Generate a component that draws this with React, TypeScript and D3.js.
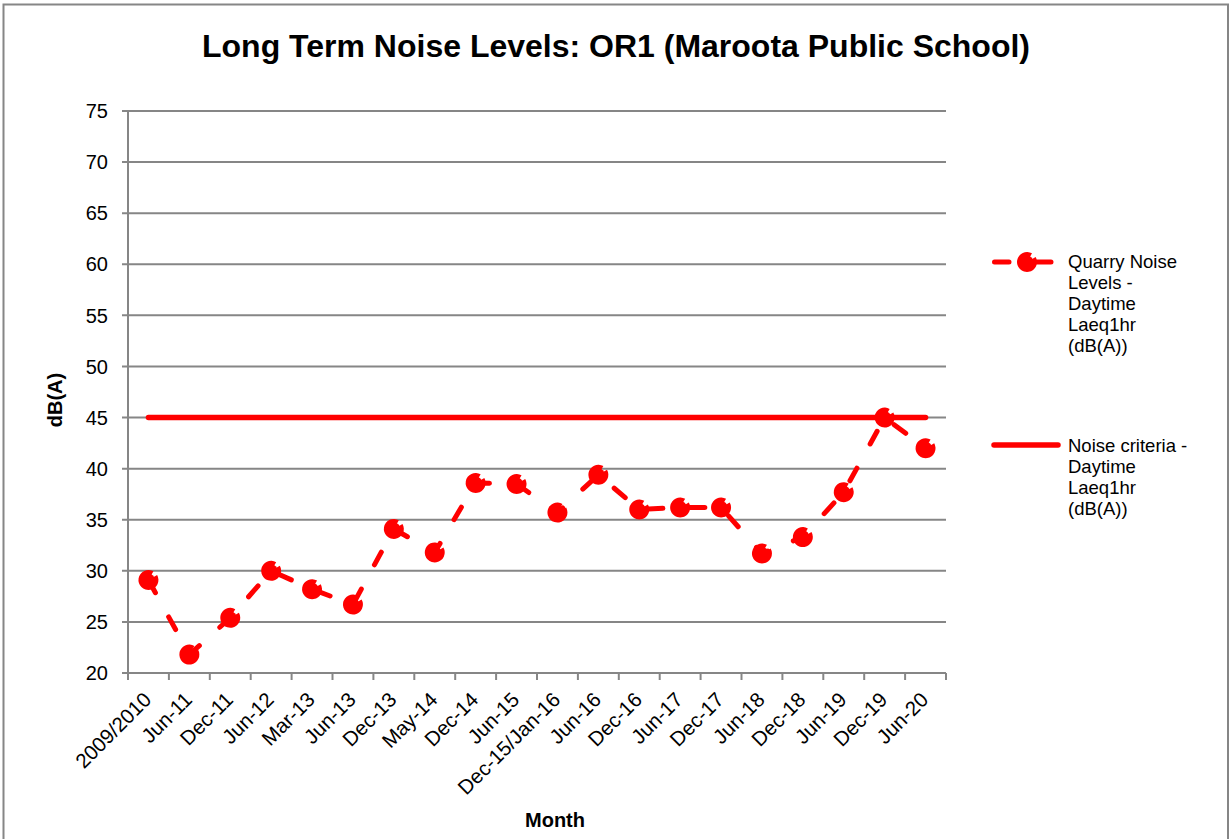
import React, { useRef, useEffect } from "react";
import { select, scaleBand, scaleLinear, line, arc } from "d3";

const months = [
  "2009/2010", "Jun-11", "Dec-11", "Jun-12", "Mar-13", "Jun-13", "Dec-13",
  "May-14", "Dec-14", "Jun-15", "Dec-15/Jan-16", "Jun-16", "Dec-16", "Jun-17",
  "Dec-17", "Jun-18", "Dec-18", "Jun-19", "Dec-19", "Jun-20",
];
const quarryNoise = [
  29.1, 21.8, 25.4, 30.0, 28.2, 26.7, 34.1, 31.8, 38.6, 38.5,
  35.7, 39.4, 36.0, 36.2, 36.2, 31.7, 33.3, 37.7, 45.0, 42.0,
];
const noiseCriteria = [
  45, 45, 45, 45, 45, 45, 45, 45, 45, 45,
  45, 45, 45, 45, 45, 45, 45, 45, 45, 45,
];
const yTicks = [20, 25, 30, 35, 40, 45, 50, 55, 60, 65, 70, 75];
const quarryLegend = ["Quarry Noise", "Levels -", "Daytime", "Laeq1hr", "(dB(A))"];
const criteriaLegend = ["Noise criteria -", "Daytime", "Laeq1hr", "(dB(A))"];

const RED = "#ff0000";
const GRID = "#868686";
const FONT = "'Liberation Sans', Arial, sans-serif";

function App() {
  const svgRef = useRef<SVGSVGElement>(null);

  useEffect(() => {
    const svg = select(svgRef.current);
    svg.selectAll("*").remove();

    // chart frame
    svg.append("path")
      .attr("d", "M3.5,845 V4.5 H1228 V845")
      .attr("fill", "none")
      .attr("stroke", GRID)
      .attr("stroke-width", 2);

    const x = scaleBand<string>().domain(months).range([128, 946]);
    const y = scaleLinear().domain([20, 75]).range([673, 111]);
    const cx = (m: string) => (x(m) as number) + x.bandwidth() / 2;

    // title
    svg.append("text")
      .attr("x", 616).attr("y", 57)
      .attr("text-anchor", "middle")
      .attr("font-family", FONT).attr("font-weight", "bold").attr("font-size", 32)
      .text("Long Term Noise Levels: OR1 (Maroota Public School)");

    // gridlines + y ticks
    const yg = svg.append("g");
    yTicks.forEach((t) => {
      yg.append("line")
        .attr("x1", 122).attr("x2", 946)
        .attr("y1", y(t)).attr("y2", y(t))
        .attr("stroke", GRID).attr("stroke-width", 2);
      yg.append("text")
        .attr("x", 108).attr("y", y(t)).attr("dy", "0.36em")
        .attr("text-anchor", "end")
        .attr("font-family", FONT).attr("font-size", 20)
        .text(t);
    });
    yg.append("line")
      .attr("x1", 128).attr("x2", 128).attr("y1", 111).attr("y2", 673)
      .attr("stroke", GRID).attr("stroke-width", 2);

    // x ticks + labels
    const xg = svg.append("g");
    months.forEach((m) => {
      xg.append("line")
        .attr("x1", x(m) as number).attr("x2", x(m) as number)
        .attr("y1", 673).attr("y2", 680)
        .attr("stroke", GRID).attr("stroke-width", 2);
    });
    xg.append("line")
      .attr("x1", 946).attr("x2", 946).attr("y1", 673).attr("y2", 680)
      .attr("stroke", GRID).attr("stroke-width", 2);
    months.forEach((m) => {
      const px = cx(m) + 4;
      const py = 701;
      xg.append("text")
        .attr("transform", `translate(${px},${py}) rotate(-45)`)
        .attr("text-anchor", "end")
        .attr("font-family", FONT).attr("font-size", 20.5)
        .text(m);
    });

    // axis titles
    svg.append("text")
      .attr("x", 555).attr("y", 827)
      .attr("text-anchor", "middle")
      .attr("font-family", FONT).attr("font-weight", "bold").attr("font-size", 20)
      .text("Month");
    svg.append("text")
      .attr("transform", "translate(62,400) rotate(-90)")
      .attr("text-anchor", "middle")
      .attr("font-family", FONT).attr("font-weight", "bold").attr("font-size", 20)
      .text("dB(A)");

    // criteria line
    const lineGen = line<number>()
      .x((d, i) => cx(months[i]))
      .y((d) => y(d));
    svg.append("path")
      .attr("d", lineGen(noiseCriteria))
      .attr("fill", "none")
      .attr("stroke", RED).attr("stroke-width", 5.5)
      .attr("stroke-linecap", "round");

    // quarry noise line
    svg.append("path")
      .attr("d", lineGen(quarryNoise))
      .attr("fill", "none")
      .attr("stroke", RED).attr("stroke-width", 5)
      .attr("stroke-linecap", "round")
      .attr("stroke-dasharray", "14.5,27.5");

    const notched = arc()({
      innerRadius: 0, outerRadius: 10,
      startAngle: Math.PI / 3, endAngle: 2 * Math.PI + Math.PI / 6,
    } as any) as string;
    const drawMarker = (g: any, px: number, py: number) => {
      const mg = g.append("g").attr("transform", `translate(${px},${py})`);
      mg.append("path").attr("d", notched).attr("fill", RED);
      mg.append("circle").attr("r", 6.5).attr("fill", RED);
    };
    const markers = svg.append("g");
    quarryNoise.forEach((v, i) => drawMarker(markers, cx(months[i]), y(v)));

    // legend
    const lg = svg.append("g");
    lg.append("line")
      .attr("x1", 994.5).attr("x2", 1055).attr("y1", 262).attr("y2", 262)
      .attr("stroke", RED).attr("stroke-width", 5)
      .attr("stroke-linecap", "round")
      .attr("stroke-dasharray", "14.5,27.5");
    drawMarker(lg, 1027, 262);
    quarryLegend.forEach((t, i) => {
      lg.append("text")
        .attr("x", 1068).attr("y", 268 + i * 21)
        .attr("font-family", FONT).attr("font-size", 18.5)
        .text(t);
    });
    lg.append("line")
      .attr("x1", 994).attr("x2", 1058).attr("y1", 445).attr("y2", 445)
      .attr("stroke", RED).attr("stroke-width", 5.5)
      .attr("stroke-linecap", "round");
    criteriaLegend.forEach((t, i) => {
      lg.append("text")
        .attr("x", 1068).attr("y", 452 + i * 21)
        .attr("font-family", FONT).attr("font-size", 18.5)
        .text(t);
    });
  }, []);

  return (
    <svg
      ref={svgRef}
      width={1230}
      height={839}
      style={{ position: "absolute", left: 0, top: 0, background: "#fff" }}
    />
  );
}

export default App;
